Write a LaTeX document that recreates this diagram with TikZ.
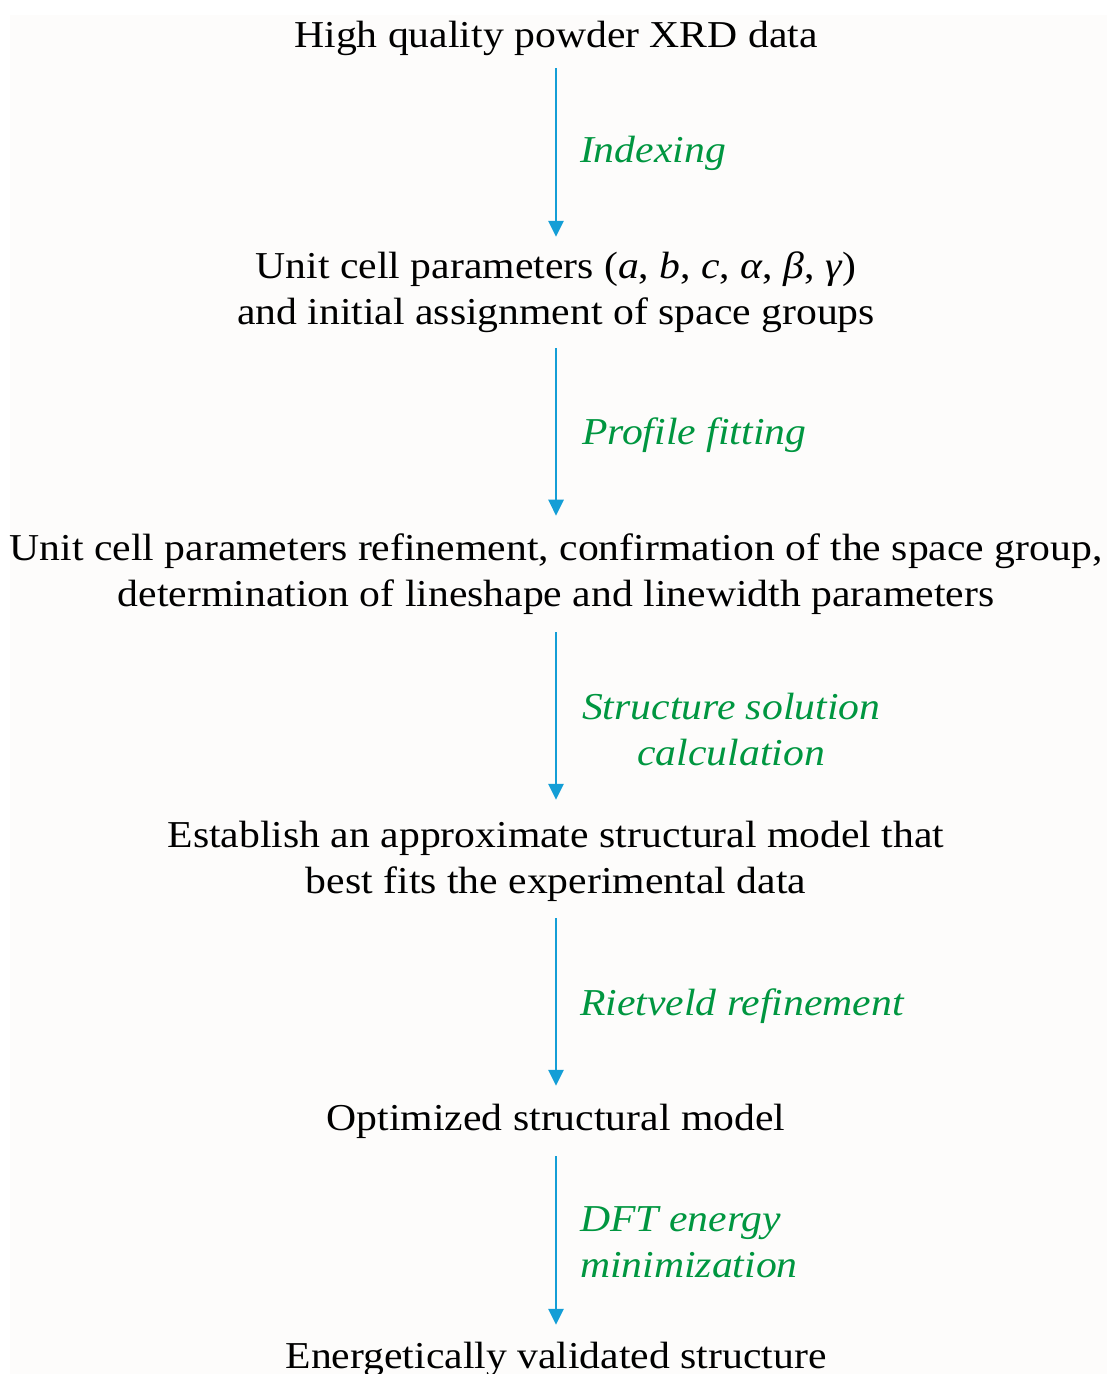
\documentclass[tikz,border=0pt]{standalone}
\usepackage{fontspec}
\setmainfont[FakeStretch=1.097]{Liberation Serif}
\usetikzlibrary{arrows.meta}
\definecolor{stepgreen}{RGB}{0,150,64}
\definecolor{arrowblue}{RGB}{20,158,214}
\definecolor{paper}{RGB}{253,252,251}
\begin{document}
\begin{tikzpicture}[x=1pt,y=-1pt,
  stagebox/.style={inner sep=0pt, outer sep=0pt, align=center, font=\fontsize{38}{46}\selectfont, text=black},
  methodlabel/.style={inner sep=0pt, outer sep=0pt, anchor=west, font=\fontsize{38}{46}\selectfont\itshape, text=stepgreen},
  flowarrow/.style={draw=arrowblue, line width=2.8pt, -{Triangle[length=16pt,width=15pt]}}
]
\useasboundingbox (0,0) rectangle (1107,1374);
\fill[white] (0,0) rectangle (1107,1374);
\fill[paper] (10,15) rectangle (1107,1374);

\node[stagebox] (s1) at (556,38) {High quality powder XRD data};
\node[stagebox] (s2) at (556,292) {Unit cell parameters (\textit{a}, \textit{b}, \textit{c}, \textit{α}, \textit{β}, \textit{γ})\\and initial assignment of space groups};
\node[stagebox] (s3) at (556,574) {Unit cell parameters refinement, confirmation of the space group,\\determination of lineshape and linewidth parameters};
\node[stagebox] (s4) at (556,861) {Establish an approximate structural model that\\best fits the experimental data};
\node[stagebox] (s5) at (556,1121) {Optimized structural model};
\node[stagebox] (s6) at (556,1359) {Energetically validated structure};

\node[methodlabel] (m1) at (580,153) {Indexing};
\node[methodlabel] (m2) at (582,435) {Profile fitting};
\node[methodlabel, align=center] (m3) at (582,730) {Structure solution\\calculation};
\node[methodlabel] (m4) at (580,1006) {Rietveld refinement};
\node[methodlabel, align=left] (m5) at (580,1242) {DFT energy\\minimization};

\draw[flowarrow, shorten <=12.8pt, shorten >=14.7pt] (s1.south) -- (s2.north);
\draw[flowarrow, shorten <=15.7pt, shorten >=17.9pt] (s2.south) -- (s3.north);
\draw[flowarrow, shorten <=17.9pt, shorten >=20.9pt] (s3.south) -- (s4.north);
\draw[flowarrow, shorten <=16.9pt, shorten >=17.9pt] (s4.south) -- (s5.north);
\draw[flowarrow, shorten <=17.9pt, shorten >=16.9pt] (s5.south) -- (s6.north);
\end{tikzpicture}
\end{document}
